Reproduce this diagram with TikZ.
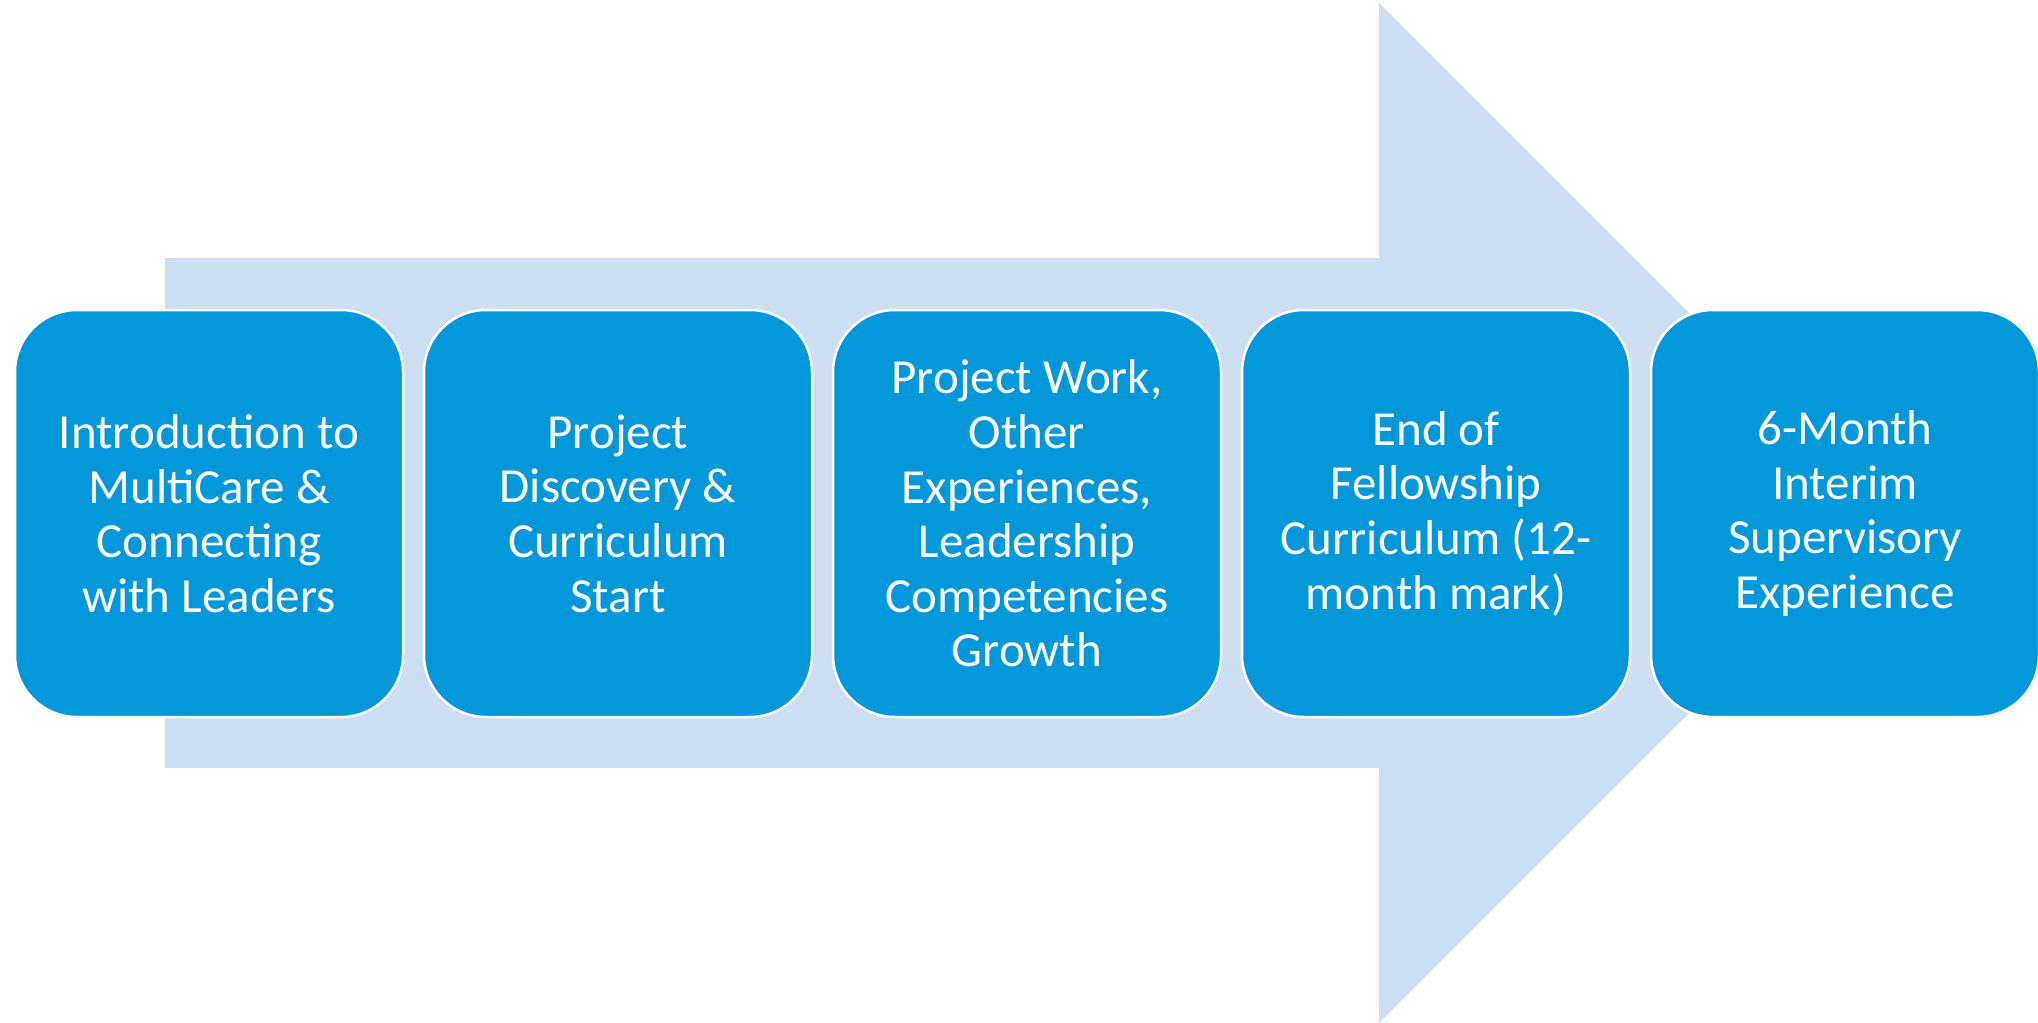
\documentclass[tikz,border=0pt]{standalone}
\usepackage{fontspec}
\setmainfont{Carlito}
\definecolor{arrowblue}{RGB}{204,222,241}
\definecolor{boxblue}{RGB}{2,151,217}
\begin{document}
\begin{tikzpicture}[x=1pt,y=-1pt,
  stepbox/.style={draw=white, line width=2.5pt, fill=boxblue, rounded corners=62pt,
    minimum width=388pt, minimum height=407pt, inner sep=0pt, align=center,
    text=white, font=\fontsize{49}{54.6}\selectfont}]
\useasboundingbox (0,0) rectangle (2038,1023);
\fill[arrowblue] (165,258) -- (1379,258) -- (1379,3) -- (1889,513) -- (1379,1023) -- (1379,768) -- (165,768) -- cycle;
\node[stepbox] (s1) at (209,513.5) {Introduction to\\MultiCare \&\\Connecting\\with Leaders};
\node[stepbox] (s2) at (618,513.5) {Project\\Discovery \&\\Curriculum\\Start};
\node[stepbox] (s3) at (1027,513.5) {Project Work,\\Other\\Experiences,\\Leadership\\Competencies\\Growth};
\node[stepbox] (s4) at (1436,513.5) {End of\\Fellowship\\Curriculum (12-\\month mark)};
\node[stepbox] (s5) at (1845,513.5) {6-Month\\Interim\\Supervisory\\Experience};
\end{tikzpicture}
\end{document}
